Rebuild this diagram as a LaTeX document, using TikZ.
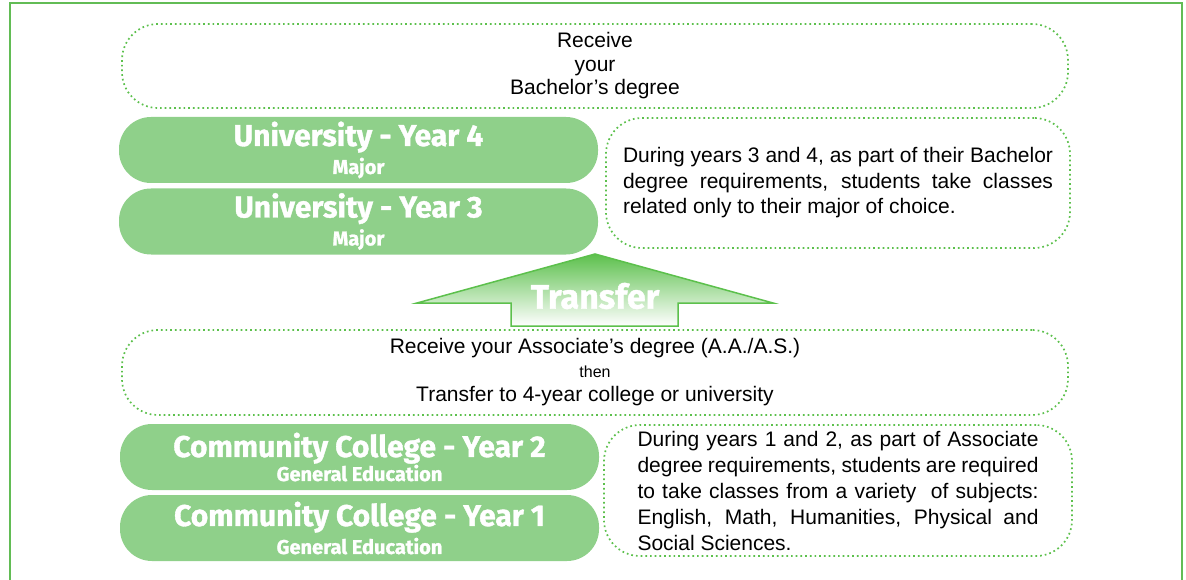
\documentclass[tikz,border=0pt]{standalone}
\usepackage{fontspec}
\setmainfont{Liberation Sans}
\newfontfamily\pillfont[BoldFeatures={FakeBold=1.2}]{Fira Sans}
\definecolor{framegreen}{HTML}{62BC55}
\definecolor{dotgreen}{HTML}{5CC04C}
\definecolor{pillgreen}{HTML}{8FD08A}
\tikzset{
  pill/.style={fill=pillgreen, rounded corners=32pt, minimum width=479pt, minimum height=66pt,
    inner sep=0pt, align=center, text=white, font=\pillfont\bfseries\fontsize{20}{28}\selectfont},
  dotbox/.style={draw=dotgreen, line width=1.7pt, dash pattern=on 1.7pt off 3pt, rounded corners=36pt,
    inner sep=0pt, minimum width=946pt, align=center},
  notebox/.style={draw=dotgreen, line width=1.7pt, dash pattern=on 1.7pt off 3pt, rounded corners=36pt,
    inner sep=0pt}
}
\begin{document}
\begin{tikzpicture}[x=1pt,y=-1pt]
    \useasboundingbox (0,0) rectangle (1186,580);
    \draw[framegreen, line width=2pt] (10,600) -- (10,3) -- (1182,3) -- (1182,600);
    % degree boxes
    \node[dotbox, minimum height=84pt, font=\fontsize{21}{23.5}\selectfont] (bachelor) at (595,66)
        {Receive\\your\\Bachelor’s degree};
    \node[dotbox, minimum height=85pt, font=\fontsize{21}{24}\selectfont] (associate) at (595,372.5)
        {Receive your Associate’s degree (A.A./A.S.)\\{\fontsize{16}{16}\selectfont then}\\Transfer to 4-year college or university};
    % years
    \node[pill] (year4) at (358.5,150) {{\fontsize{30}{30}\selectfont University - Year 4}\\Major};
    \node[pill] (year3) at (358.5,221.5) {{\fontsize{30}{30}\selectfont University - Year 3}\\Major};
    \node[pill] (year2) at (359.5,457) {{\fontsize{30}{30}\selectfont Community College - Year 2}\\[-4pt]General Education};
    \node[pill] (year1) at (359.5,528) {{\fontsize{30}{30}\selectfont Community College - Year 1}\\General Education};
    % notes
    \node[notebox, minimum width=464pt, minimum height=130pt] (major) at (838,183)
        {\parbox{430pt}{\fontsize{21}{25.5}\selectfont
        During years 3 and 4, as part of their Bachelor\linebreak degree requirements, students take classes\linebreak related only to their major of choice.}};
    \node[notebox, minimum width=468pt, minimum height=131pt] (general) at (838,490.5)
        {\parbox{401pt}{\fontsize{21}{26}\selectfont
        During years 1 and 2, as part of Associate\linebreak degree requirements, students are required\linebreak to take classes from a variety \ of subjects:\linebreak English, Math, Humanities, Physical and\linebreak Social Sciences.}};
    % transfer arrow
    \draw[dotgreen, line width=1.5pt, top color=dotgreen, bottom color=white]
        (595,254) -- (773,303) -- (678,303) -- (678,326) -- (511,326) -- (511,303) -- (417,303) -- cycle;
    \node[text=white, font=\pillfont\bfseries\fontsize{34}{34}\selectfont] (transfer) at (595,296) {Transfer};
\end{tikzpicture}
\end{document}
